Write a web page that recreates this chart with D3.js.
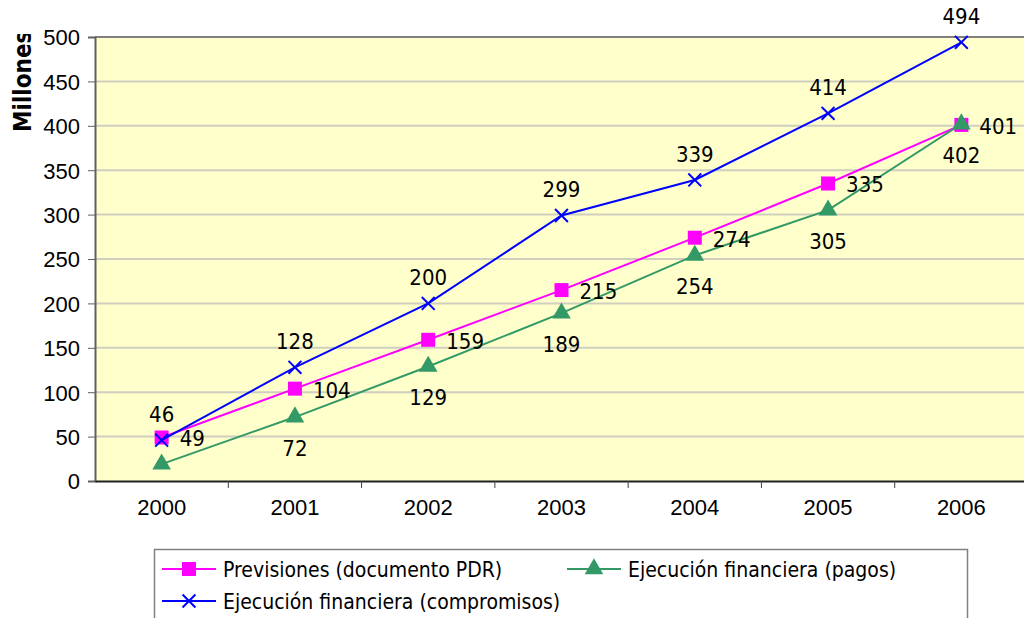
<!DOCTYPE html>
<html>
<head>
<meta charset="utf-8">
<script src="https://cdn.jsdelivr.net/npm/d3@7"></script>
<style>
  body { margin: 0; background: #fff; }
  svg { display: block; font-family: "DejaVu Sans Condensed", "DejaVu Sans", sans-serif; }
</style>
</head>
<body>
<div id="chart"></div>
<script>
var years = ["2000", "2001", "2002", "2003", "2004", "2005", "2006"];
var previsiones = [49, 104, 159, 215, 274, 335, 401];
var pagos = [19, 72, 129, 189, 254, 305, 402];
var compromisos = [46, 128, 200, 299, 339, 414, 494];
var pagosLabels = [null, 72, 129, 189, 254, 305, 402];
var yTicks = [0, 50, 100, 150, 200, 250, 300, 350, 400, 450, 500];

var W = 1024, H = 618;
var margin = {top: 37, left: 95, bottom: 481, right: 1028};

var svg = d3.select("#chart").append("svg")
    .attr("width", W)
    .attr("height", H);

var x = d3.scaleBand()
    .domain(years)
    .range([margin.left, margin.right])
    .padding(0);

var y = d3.scaleLinear()
    .domain([0, 500])
    .range([margin.bottom, margin.top]);

function cx(i) { return x(years[i]) + x.bandwidth() / 2; }

// plot background
svg.append("rect")
    .attr("x", margin.left).attr("y", margin.top)
    .attr("width", margin.right - margin.left)
    .attr("height", margin.bottom - margin.top)
    .attr("fill", "#ffffcc");

// gridlines
svg.append("g").selectAll("line")
    .data(yTicks.slice(1, -1))
    .enter().append("line")
    .attr("x1", margin.left).attr("x2", margin.right)
    .attr("y1", function(d) { return y(d); })
    .attr("y2", function(d) { return y(d); })
    .attr("stroke", "#cfcfc0")
    .attr("stroke-width", 2);

// top border
svg.append("line")
    .attr("x1", margin.left).attr("x2", margin.right)
    .attr("y1", y(500)).attr("y2", y(500))
    .attr("stroke", "#808080").attr("stroke-width", 2);

// y axis
var yAxis = svg.append("g")
    .attr("transform", "translate(" + margin.left + ",0)")
    .call(d3.axisLeft(y).tickValues(yTicks).tickSize(7).tickPadding(8));
yAxis.select(".domain").attr("stroke", "#606060").attr("stroke-width", 2);
yAxis.selectAll(".tick line").attr("stroke", "#606060");
yAxis.selectAll("text").attr("font-size", 22).attr("fill", "#000").attr("dy", "0.36em");

// x axis
var xAxis = svg.append("g")
    .attr("transform", "translate(0," + margin.bottom + ")")
    .call(d3.axisBottom(x).tickSize(0).tickPadding(18));
xAxis.select(".domain").attr("stroke", "#202020").attr("stroke-width", 2);
xAxis.selectAll("text").attr("font-size", 22).attr("fill", "#000");
xAxis.selectAll(".sep")
    .data(years.slice(0, -1))
    .enter().append("line")
    .attr("class", "sep")
    .attr("x1", function(d) { return x(d) + x.bandwidth(); })
    .attr("x2", function(d) { return x(d) + x.bandwidth(); })
    .attr("y1", 0).attr("y2", 7)
    .attr("stroke", "#404040");

// y title (clipped at top like the original)
svg.append("clipPath").attr("id", "tclip")
    .append("rect").attr("x", 0).attr("y", 34).attr("width", 60).attr("height", 200);
svg.append("g")
    .attr("clip-path", "url(#tclip)")
  .append("text")
    .attr("transform", "translate(31,132) rotate(-90)")
    .attr("font-size", 24)
    .attr("font-weight", "bold")
    .attr("fill", "#000")
    .text("Millones");

var line = d3.line()
    .x(function(d, i) { return cx(i); })
    .y(function(d) { return y(d); });

var sqSym = d3.symbol().type(d3.symbolSquare).size(196);
var triSym = d3.symbol().type(d3.symbolTriangle).size(150);
var xSym = d3.symbol().type(d3.symbolX).size(110);

var series = [
  {key: "Previsiones (documento PDR)", values: previsiones, color: "#ff00ff", sym: sqSym, stroke: false},
  {key: "Ejecución financiera (pagos)", values: pagos, color: "#339966", sym: triSym, stroke: false},
  {key: "Ejecución financiera (compromisos)", values: compromisos, color: "#0000ff", sym: xSym, stroke: true}
];

series.forEach(function(s) {
  svg.append("path")
    .datum(s.values)
    .attr("d", line)
    .attr("fill", "none")
    .attr("stroke", s.color)
    .attr("stroke-width", 2);
  svg.append("g").selectAll("path")
    .data(s.values)
    .enter().append("path")
    .attr("transform", function(d, i) { return "translate(" + cx(i) + "," + y(d) + ")"; })
    .attr("d", s.sym)
    .attr("fill", s.stroke ? "none" : s.color)
    .attr("stroke", s.stroke ? s.color : "none")
    .attr("stroke-width", 2);
});

// data labels
var lbl = svg.append("g").attr("font-size", 22).attr("fill", "#000");
lbl.selectAll(".lc")
    .data(compromisos)
    .enter().append("text")
    .attr("x", function(d, i) { return cx(i); })
    .attr("y", function(d) { return y(d) - 26; })
    .attr("dy", "0.36em")
    .attr("text-anchor", "middle")
    .text(function(d) { return d; });
lbl.selectAll(".lp")
    .data(previsiones)
    .enter().append("text")
    .attr("x", function(d, i) { return cx(i) + 18; })
    .attr("y", function(d) { return y(d) + 1; })
    .attr("dy", "0.36em")
    .text(function(d) { return d; });
lbl.selectAll(".lg")
    .data(pagosLabels)
    .enter().append("text")
    .attr("x", function(d, i) { return cx(i); })
    .attr("y", function(d, i) { return y(pagos[i]) + 31; })
    .attr("dy", "0.36em")
    .attr("text-anchor", "middle")
    .text(function(d) { return d === null ? "" : d; });

// legend
svg.append("rect")
    .attr("x", 154.5).attr("y", 549.5)
    .attr("width", 813).attr("height", 100)
    .attr("fill", "#fff")
    .attr("stroke", "#808080")
    .attr("stroke-width", 1.5);

var legPos = [[162, 569], [567, 569], [162, 601]];
series.forEach(function(s, i) {
  var p = legPos[i];
  var g = svg.append("g").attr("transform", "translate(" + p[0] + "," + p[1] + ")");
  g.append("line").attr("x1", 0).attr("x2", 54).attr("stroke", s.color).attr("stroke-width", 2);
  g.append("path")
    .attr("transform", "translate(27,0)")
    .attr("d", s.sym)
    .attr("fill", s.stroke ? "none" : s.color)
    .attr("stroke", s.stroke ? s.color : "none")
    .attr("stroke-width", 2);
  g.append("text")
    .attr("x", 61).attr("dy", "0.36em")
    .attr("font-size", 21)
    .attr("fill", "#000")
    .text(s.key);
});
</script>
</body>
</html>
